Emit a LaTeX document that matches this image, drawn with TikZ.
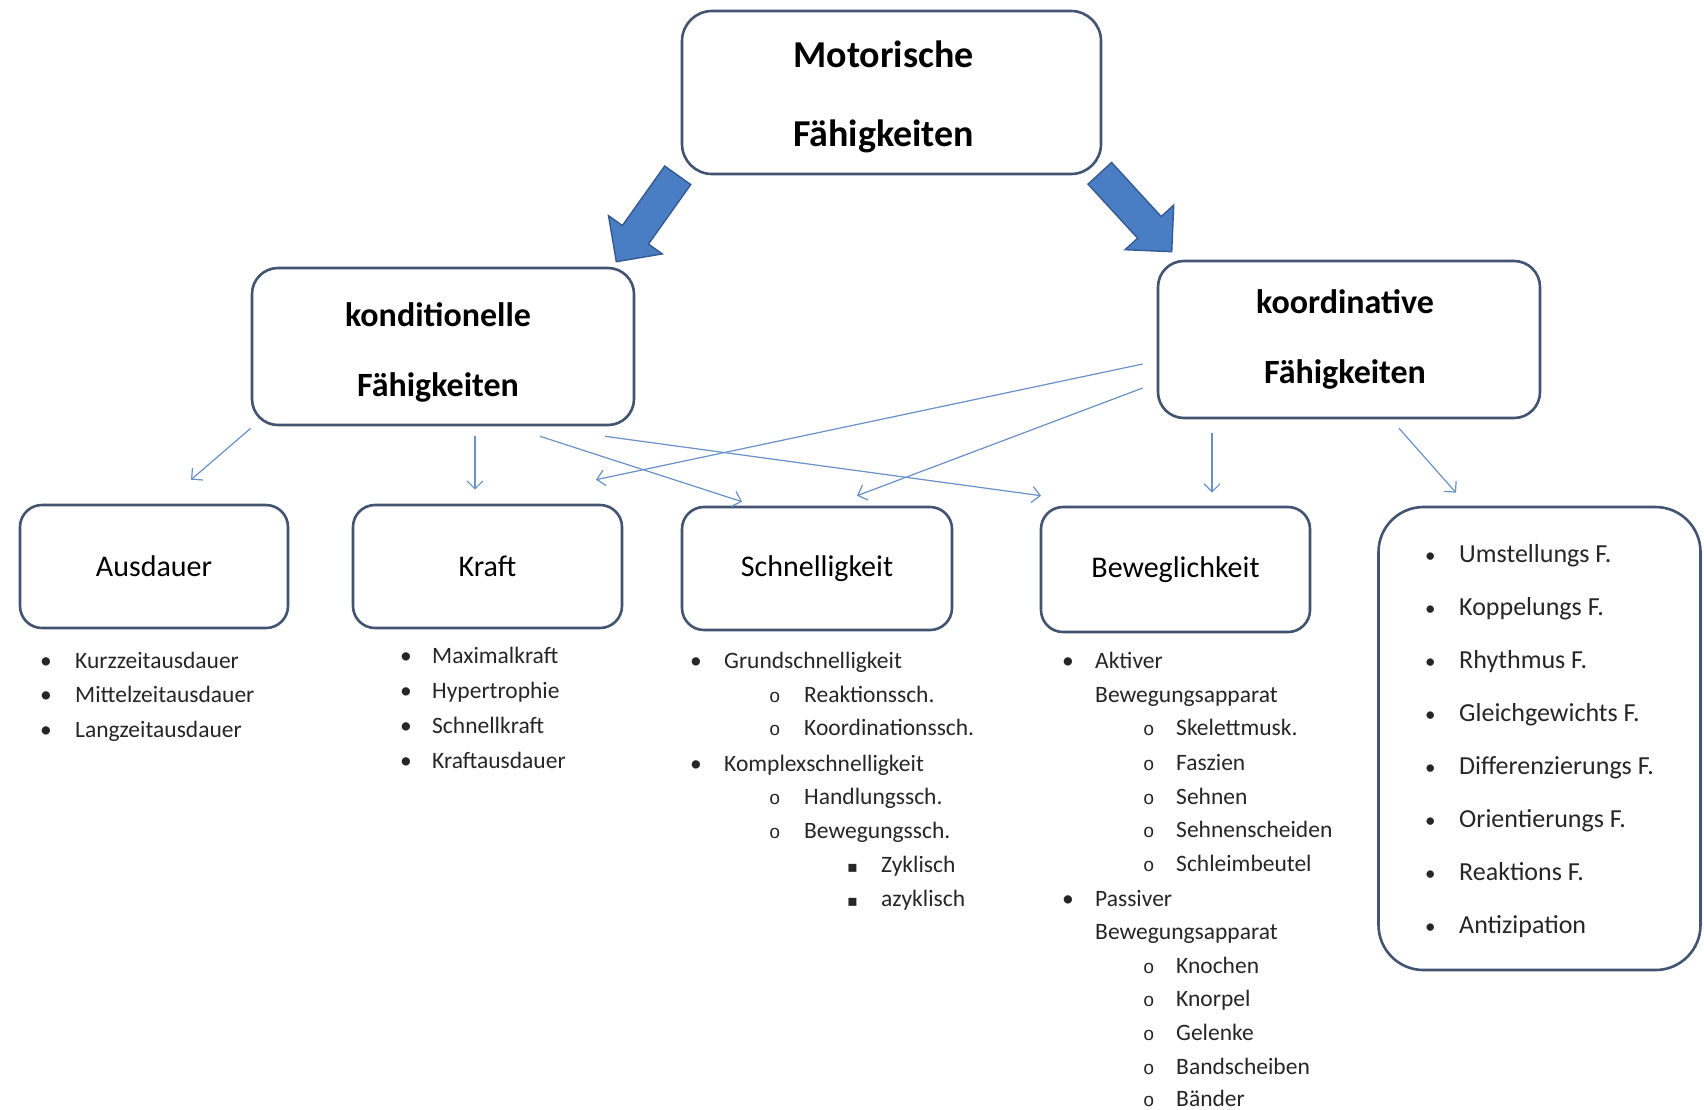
\documentclass[tikz,border=0pt]{standalone}
\usepackage{fontspec}
\setmainfont{Carlito}
\newfontfamily\monofnt{Liberation Mono}
\newfontfamily\dejafnt{DejaVu Sans}
\usetikzlibrary{arrows.meta,calc}
\definecolor{boxline}{RGB}{66,84,112}
\definecolor{thinblue}{RGB}{105,145,200}
\definecolor{blockfill}{RGB}{74,126,196}
\definecolor{blockedge}{RGB}{52,90,145}
\definecolor{listtext}{RGB}{38,38,38}
\newcommand\mkblockarrow[2]{%
  \coordinate (bB) at ($(#2)!33pt!(#1)$);
  \path[block] ($(#1)!16pt!90:(#2)$) -- ($(bB)!16pt!90:(#2)$) -- ($(bB)!33pt!90:(#2)$)
    -- (#2) -- ($(bB)!33pt!-90:(#2)$) -- ($(bB)!16pt!-90:(#2)$) -- ($(#1)!16pt!-90:(#2)$) -- cycle;}
\newcommand\subo{\monofnt\fontsize{19}{22}\selectfont o}
\newcommand\subsq{\dejafnt\fontsize{16}{20}\selectfont ▪}
\newcommand\rbul{\fontsize{21}{24}\selectfont •}
\begin{document}
\begin{tikzpicture}[x=1pt,y=-1pt,
  box/.style={draw=boxline, line width=2.6pt, rounded corners=22pt, fill=white, inner sep=0pt, align=center},
  thinarrow/.style={draw=thinblue, line width=1.2pt, -{Straight Barb[length=8pt,width=16pt]}},
  block/.style={fill=blockfill, draw=blockedge, line width=1.4pt, line join=miter},
  li/.style={anchor=mid west, inner sep=0pt, font=\fontsize{23.5}{28}\selectfont, text=listtext},
  ri/.style={anchor=mid west, inner sep=0pt, font=\fontsize{26}{30}\selectfont, text=listtext},
  bigfont/.style={inner sep=0pt, align=center, font=\bfseries\fontsize{38}{79}\selectfont},
  midfont/.style={inner sep=0pt, align=center, font=\bfseries\fontsize{34}{70}\selectfont},
  smallfont/.style={font=\fontsize{30}{36}\selectfont},
]
\useasboundingbox[fill=white] (0,0) rectangle (1704,1109);

% main boxes
\node[box, rounded corners=30pt, minimum width=419pt, minimum height=163pt] (top) at (891.5,92.5) {};
\node[bigfont] (toptext) at ([shift={(-8pt,-4pt)}]top.center) {Motorische\\Fähigkeiten};
\node[box, rounded corners=26pt, minimum width=382pt, minimum height=157pt] (kond) at (443,346.5) {};
\node[midfont] (kondtext) at ([shift={(-5pt,-6pt)}]kond.center) {konditionelle\\Fähigkeiten};
\node[box, rounded corners=26pt, minimum width=382pt, minimum height=157pt] (koord) at (1349,339.5) {};
\node[midfont] (koordtext) at ([shift={(-4pt,0pt)}]koord.center) {koordinative\\Fähigkeiten};

\node[box, minimum width=268pt, minimum height=123pt, smallfont] (ausd) at (154,566.5) {Ausdauer};
\node[box, minimum width=269pt, minimum height=123pt, smallfont] (kraft) at (487.5,566.5) {Kraft};
\node[box, minimum width=270pt, minimum height=123pt, smallfont] (schnell) at (817,568.5) {Schnelligkeit};
\node[box, minimum width=269pt, minimum height=125pt, smallfont] (bewegl) at (1175.5,569.5) {Beweglichkeit};
\node[box, rounded corners=45pt, minimum width=322pt, minimum height=463pt] (liste) at (1539.5,738.5) {};

% block arrows
\coordinate (la1) at ([shift={(-3pt,0pt)}]top.south west);
\coordinate (la2) at ([shift={(-19pt,5pt)}]kond.north east);
\coordinate (ra1) at ([shift={(-2.5pt,2pt)}]top.south east);
\coordinate (ra2) at ([shift={(15pt,8pt)}]koord.north west);
\mkblockarrow{la1}{la2}
\mkblockarrow{ra1}{ra2}

% thin arrows
\draw[thinarrow] ([yshift=-2pt]kond.south west) -- ([shift={(37pt,24pt)}]ausd.north);
\draw[thinarrow] ([shift={(32pt,-10pt)}]kond.south) -- ([shift={(-12.5pt,14pt)}]kraft.north);
\draw[thinarrow] ([shift={(97pt,-10pt)}]kond.south) -- ([shift={(-75pt,4pt)}]schnell.north);
\draw[thinarrow] ([shift={(162pt,-10pt)}]kond.south) -- ([shift={(-134.5pt,10pt)}]bewegl.north);
\draw[thinarrow] ([shift={(-14pt,-24.5pt)}]koord.west) -- ([shift={(108.5pt,24pt)}]kraft.north);
\draw[thinarrow] ([shift={(-14pt,-48.5pt)}]koord.west) -- ([shift={(40pt,10pt)}]schnell.north);
\draw[thinarrow] ([shift={(-137pt,-14pt)}]koord.south) -- ([shift={(36.5pt,13pt)}]bewegl.north);
\draw[thinarrow] ([shift={(50pt,-9pt)}]koord.south) -- ([shift={(-83.5pt,13pt)}]liste.north);

% Ausdauer list
\node[li] (a1) at (40,666) {\makebox[35pt][l]{•}Kurzzeitausdauer};
\node[li] (a2) at (40,700) {\makebox[35pt][l]{•}Mittelzeitausdauer};
\node[li] (a3) at (40,735) {\makebox[35pt][l]{•}Langzeitausdauer};

% Kraft list
\node[li] (k1) at (400,661) {\makebox[32pt][l]{•}Maximalkraft};
\node[li] (k2) at (400,696) {\makebox[32pt][l]{•}Hypertrophie};
\node[li] (k3) at (400,731) {\makebox[32pt][l]{•}Schnellkraft};
\node[li] (k4) at (400,766) {\makebox[32pt][l]{•}Kraftausdauer};

% Schnelligkeit list
\node[li] (s1) at (690,666) {\makebox[34pt][l]{•}Grundschnelligkeit};
\node[li] (s2) at (769,700) {\makebox[35pt][l]{\subo}Reaktionssch.};
\node[li] (s3) at (769,733) {\makebox[35pt][l]{\subo}Koordinationssch.};
\node[li] (s4) at (690,769) {\makebox[34pt][l]{•}Komplexschnelligkeit};
\node[li] (s5) at (769,802) {\makebox[35pt][l]{\subo}Handlungssch.};
\node[li] (s6) at (769,836) {\makebox[35pt][l]{\subo}Bewegungssch.};
\node[li] (s7) at (847,870) {\makebox[34pt][l]{\subsq}Zyklisch};
\node[li] (s8) at (847,904) {\makebox[34pt][l]{\subsq}azyklisch};

% Beweglichkeit list
\node[li] (b1) at (1062,666) {\makebox[33pt][l]{•}Aktiver};
\node[li] (b2) at (1095,700) {Bewegungsapparat};
\node[li] (b3) at (1143,733) {\makebox[33pt][l]{\subo}Skelettmusk.};
\node[li] (b4) at (1143,768) {\makebox[33pt][l]{\subo}Faszien};
\node[li] (b5) at (1143,802) {\makebox[33pt][l]{\subo}Sehnen};
\node[li] (b6) at (1143,835) {\makebox[33pt][l]{\subo}Sehnenscheiden};
\node[li] (b7) at (1143,869) {\makebox[33pt][l]{\subo}Schleimbeutel};
\node[li] (b8) at (1062,904) {\makebox[33pt][l]{•}Passiver};
\node[li] (b9) at (1095,937) {Bewegungsapparat};
\node[li] (b10) at (1143,971) {\makebox[33pt][l]{\subo}Knochen};
\node[li] (b11) at (1143,1004) {\makebox[33pt][l]{\subo}Knorpel};
\node[li] (b12) at (1143,1038) {\makebox[33pt][l]{\subo}Gelenke};
\node[li] (b13) at (1143,1072) {\makebox[33pt][l]{\subo}Bandscheiben};
\node[li] (b14) at (1143,1104) {\makebox[33pt][l]{\subo}Bänder};

% koordinative list
\node[ri] (r1) at (1425,560) {\makebox[34pt][l]{\rbul}Umstellungs F.};
\node[ri] (r2) at (1425,613) {\makebox[34pt][l]{\rbul}Koppelungs F.};
\node[ri] (r3) at (1425,666) {\makebox[34pt][l]{\rbul}Rhythmus F.};
\node[ri] (r4) at (1425,719) {\makebox[34pt][l]{\rbul}Gleichgewichts F.};
\node[ri] (r5) at (1425,772) {\makebox[34pt][l]{\rbul}Differenzierungs F.};
\node[ri] (r6) at (1425,825) {\makebox[34pt][l]{\rbul}Orientierungs F.};
\node[ri] (r7) at (1425,878) {\makebox[34pt][l]{\rbul}Reaktions F.};
\node[ri] (r8) at (1425,931) {\makebox[34pt][l]{\rbul}Antizipation};
\end{tikzpicture}
\end{document}
